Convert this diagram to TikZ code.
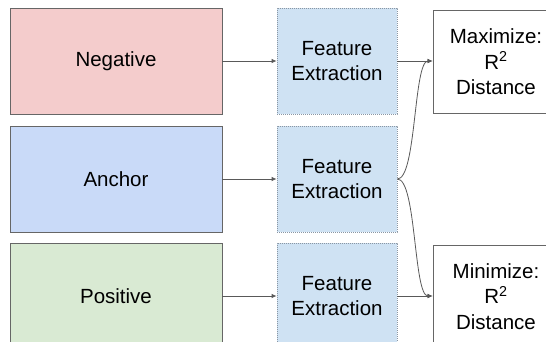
\documentclass[tikz,border=0pt]{standalone}
\usepackage{fontspec}
\setmainfont{Liberation Sans}
\usetikzlibrary{arrows.meta}
\definecolor{negfill}{HTML}{F4CCCC}
\definecolor{ancfill}{HTML}{C9DAF8}
\definecolor{posfill}{HTML}{D9EAD3}
\definecolor{featfill}{HTML}{CFE2F3}
\definecolor{edge}{HTML}{666666}
\definecolor{dotedge}{HTML}{8A96A3}
\definecolor{wire}{HTML}{595959}
\tikzset{
  txt/.style={font=\fontsize{20.5}{25.5}\selectfont, align=center, text=black},
  inbox/.style={txt, draw=edge, line width=0.9pt, minimum width=212pt, minimum height=106pt, inner sep=0pt},
  featbox/.style={txt, fill=featfill, draw=dotedge, line width=0.8pt, dash pattern=on 0.9pt off 1.1pt,
                  minimum width=120pt, minimum height=106pt, inner sep=0pt},
  lossbox/.style={txt, fill=white, draw=edge, line width=0.9pt, minimum width=126pt, minimum height=103pt, inner sep=0pt},
  arr/.style={draw=wire, line width=0.8pt, -{Latex[length=5pt,width=4.5pt]}}
}
\begin{document}
\begin{tikzpicture}[x=1pt,y=-1pt]
\useasboundingbox (0,0) rectangle (546,341);
\clip (0,0) rectangle (546,341);
\fill[white] (0,0) rectangle (546,341);

% input triplet
\node[inbox, fill=negfill] (neg) at (116,61)  {Negative};
\node[inbox, fill=ancfill] (anc) at (116,179) {Anchor};
\node[inbox, fill=posfill] (pos) at (116,296) {Positive};

% shared feature extractors
\node[featbox] (fneg) at (337,61)  {Feature\\Extraction};
\node[featbox] (fanc) at (337,179) {Feature\\Extraction};
\node[featbox] (fpos) at (337,296) {Feature\\Extraction};

% distance objectives
\node[lossbox] (max) at (496,62)    {Maximize:\\R\textsuperscript{2}\\Distance};
\node[lossbox] (min) at (496,296.5) {Minimize:\\R\textsuperscript{2}\\Distance};

\coordinate (maxin) at (fneg.east -| max.west);
\coordinate (minin) at (fpos.east -| min.west);

\draw[arr] (neg.east) -- (fneg.west);
\draw[arr] (anc.east) -- (fanc.west);
\draw[arr] (pos.east) -- (fpos.west);

\draw[arr] (fneg.east) -- (maxin);
\draw[arr] (fpos.east) -- (minin);

\draw[arr] (fanc.east) .. controls +(19,0) and +(-19,0) .. (maxin);
\draw[arr] (fanc.east) .. controls +(19,0) and +(-19,0) .. (minin);
\end{tikzpicture}
\end{document}
